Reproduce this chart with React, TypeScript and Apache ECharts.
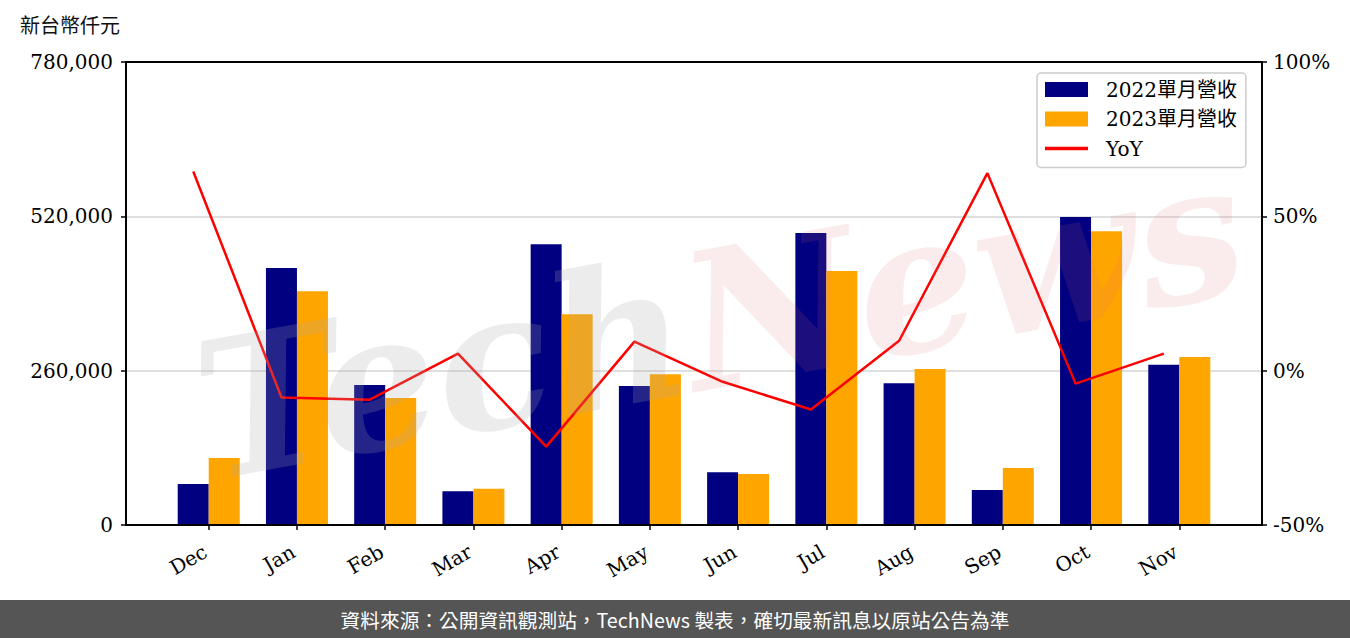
import React, { useEffect, useRef } from "react";
import * as echarts from "echarts";

const months = ["Dec", "Jan", "Feb", "Mar", "Apr", "May", "Jun", "Jul", "Aug", "Sep", "Oct", "Nov"];
const rev2022 = [69000, 433000, 236000, 57000, 473000, 234000, 89000, 492000, 239000, 59000, 519000, 270000];
const rev2023 = [113000, 394000, 214000, 61000, 355000, 254000, 86000, 428000, 263000, 96000, 495000, 283000];
const yoy = [64.5, -8.7, -9.4, 5.5, -24.6, 9.4, -3.6, -12.6, 9.7, 64.0, -4.2, 5.5];
const leftTicks = [0, 260000, 520000, 780000];
const rightTicks = [-50, 0, 50, 100];

const SERIF = "'DejaVu Serif', 'Noto Sans CJK TC', serif";
const CJK = "'Noto Sans CJK TC', 'Noto Sans', sans-serif";

export default function App() {
  const ref = useRef<HTMLDivElement>(null);
  useEffect(() => {
    if (!ref.current) return;
    const chart = echarts.init(ref.current, null, { renderer: "svg" });
    const idx = months.map((_, i) => i);
    const barShift = 0.175;
    chart.setOption({
      animation: false,
      backgroundColor: "#fff",
      grid: {
        left: 126,
        right: 88,
        top: 62,
        bottom: 113,
        show: true,
        borderColor: "#000",
        borderWidth: 1.8,
        containLabel: false,
        z: 3,
      },
      legend: {
        orient: "vertical",
        left: 1037,
        top: 73,
        padding: [5.5, 9, 8, 8],
        itemWidth: 43,
        itemHeight: 15,
        itemGap: 7.5,
        backgroundColor: "rgba(255,255,255,0.85)",
        borderColor: "#cccccc",
        borderWidth: 1.5,
        borderRadius: 4,
        textStyle: { fontSize: 20, fontFamily: SERIF, color: "#000", lineHeight: 22, padding: [0, 0, 0, 13] },
        data: [
          { name: "2022單月營收", icon: "rect" },
          { name: "2023單月營收", icon: "rect" },
          { name: "YoY", icon: "path://M0 0H43V3.5H0Z", itemStyle: { color: "#FF0000" } },
        ],
      },
      xAxis: {
        type: "value",
        min: -0.9375,
        max: 11.9375,
        axisLine: { show: true, onZero: false, lineStyle: { color: "#000", width: 1.8 } },
        axisTick: { show: true, length: 5, lineStyle: { color: "#000", width: 1.5 }, customValues: idx },
        axisLabel: {
          customValues: idx,
          rotate: 30,
          margin: 23,
          fontSize: 20,
          fontFamily: SERIF,
          color: "#000",
          padding: [0, 4, 0, 0],
          formatter: (v: number) => months[Math.round(v)] ?? "",
        },
        splitLine: { show: false },
      },
      yAxis: [
        {
          type: "value",
          min: leftTicks[0],
          max: leftTicks[leftTicks.length - 1],
          interval: 260000,
          axisLine: { show: true, onZero: false, lineStyle: { color: "#000", width: 1.8 } },
          axisTick: { show: true, length: 5, lineStyle: { color: "#000", width: 1.5 } },
          axisLabel: {
            margin: 13,
            fontSize: 20,
            fontFamily: SERIF,
            color: "#000",
            formatter: (v: number) => v.toLocaleString("en-US"),
          },
          splitLine: { show: true, showMinLine: false, showMaxLine: false, lineStyle: { color: "#d4d4d4", width: 1.5 } },
        },
        {
          type: "value",
          position: "right",
          min: rightTicks[0],
          max: rightTicks[rightTicks.length - 1],
          interval: 50,
          axisLine: { show: true, onZero: false, lineStyle: { color: "#000", width: 1.8 } },
          axisTick: { show: true, length: 5, lineStyle: { color: "#000", width: 1.5 } },
          axisLabel: {
            margin: 11,
            fontSize: 20,
            fontFamily: SERIF,
            color: "#000",
            formatter: (v: number) => `${v}%`,
          },
          splitLine: { show: false },
        },
      ],
      series: [
        {
          name: "2022單月營收",
          type: "bar",
          barWidth: 31,
          barGap: "0%",
          itemStyle: { color: "#000080" },
          data: rev2022.map((v, i) => [i, v]),
        },
        {
          name: "2023單月營收",
          type: "bar",
          barWidth: 31,
          barGap: "0%",
          itemStyle: { color: "#FFA500" },
          data: rev2023.map((v, i) => [i, v]),
        },
        {
          name: "YoY",
          type: "line",
          yAxisIndex: 1,
          symbol: "none",
          showSymbol: false,
          lineStyle: { color: "#FF0000", width: 2.5 },
          itemStyle: { color: "#FF0000" },
          data: yoy.map((v, i) => [i - barShift, v]),
          z: 5,
        },
      ],
      graphic: [
        {
          type: "text",
          left: 20,
          top: 14,
          style: { text: "新台幣仟元", fontSize: 20, fontFamily: CJK, fill: "#111" },
        },
        {
          type: "text",
          x: 720,
          y: 320,
          rotation: 0.18,
          z: 100,
          silent: true,
          style: {
            text: "{a|Tech}{b|News}",
            align: "center",
            verticalAlign: "middle",
            rich: {
              a: { fontSize: 190, fontStyle: "italic", fontWeight: "bold", fontFamily: SERIF, fill: "rgba(170,170,170,0.22)" },
              b: { fontSize: 190, fontStyle: "italic", fontWeight: "bold", fontFamily: SERIF, fill: "rgba(220,110,110,0.13)" },
            },
          },
        },
        {
          type: "rect",
          shape: { x: 0, y: 600, width: 1350, height: 38 },
          style: { fill: "#555555" },
          z: 110,
        },
        {
          type: "text",
          x: 675,
          y: 619,
          z: 111,
          style: {
            text: "資料來源：公開資訊觀測站，TechNews 製表，確切最新訊息以原站公告為準",
            fontSize: 19.7,
            fontFamily: CJK,
            fill: "#ffffff",
            align: "center",
            verticalAlign: "middle",
          },
        },
      ],
    });
    return () => chart.dispose();
  }, []);
  return (
    <div
      ref={ref}
      style={{ position: "fixed", left: 0, top: 0, width: 1350, height: 638, background: "#fff" }}
    />
  );
}
